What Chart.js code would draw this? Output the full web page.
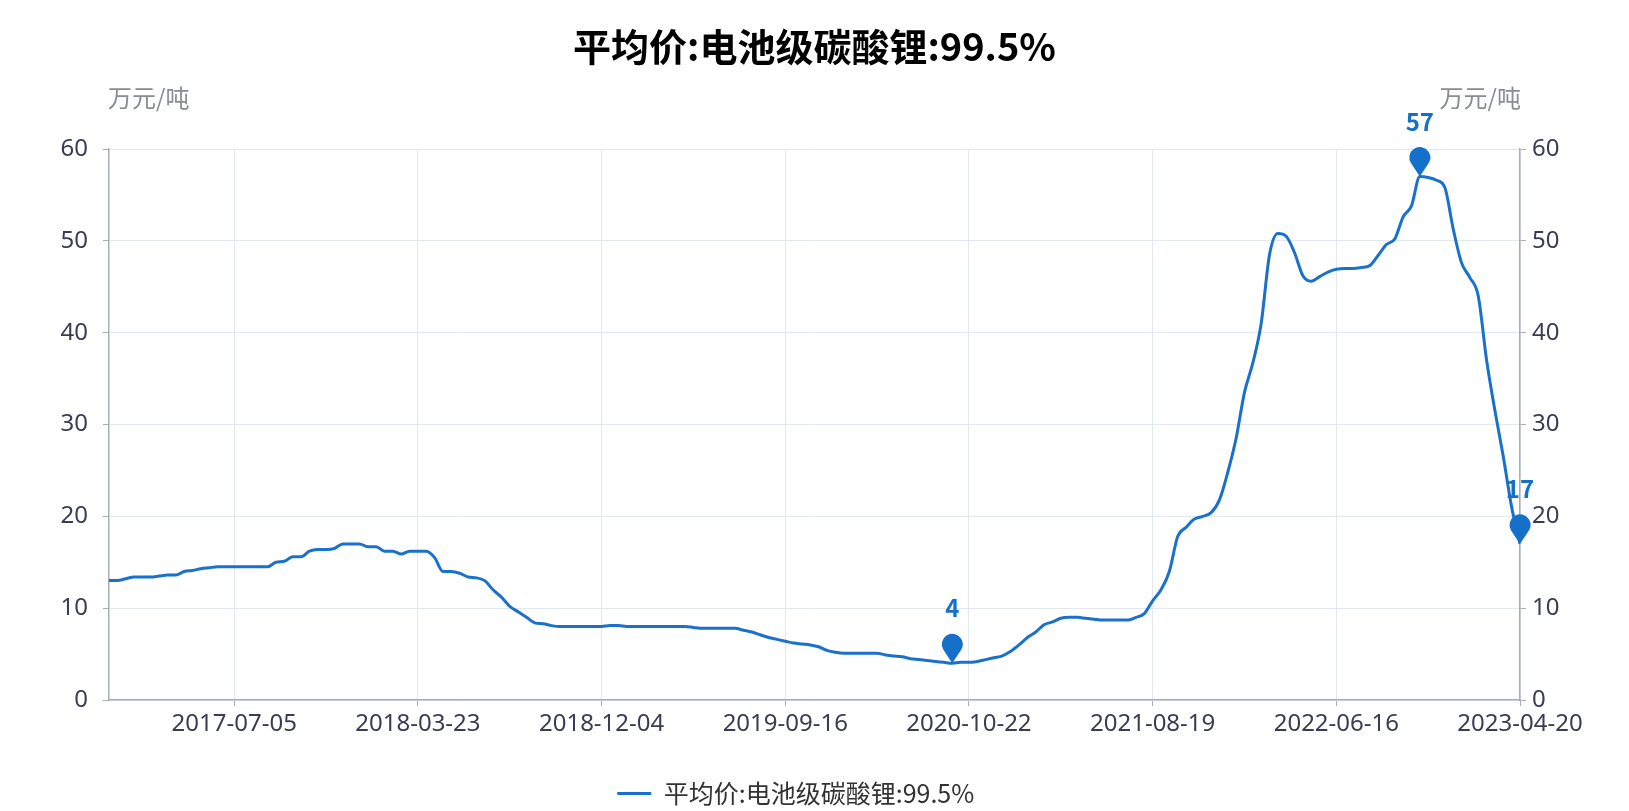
<!DOCTYPE html>
<html><head><meta charset="utf-8">
<script src="https://cdn.jsdelivr.net/npm/chart.js@4.4.1/dist/chart.umd.min.js"></script>
<style>html,body{margin:0;padding:0;background:#fff}#wrap{width:1629px;height:811px;position:relative}</style>
</head><body><div id="wrap"><canvas id="c"></canvas></div>
<script>
const titleText = '平均价:电池级碳酸锂:99.5%';
const seriesName = '平均价:电池级碳酸锂:99.5%';
const unitName = '万元/吨';
const tickLabels = ['2017-07-05','2018-03-23','2018-12-04','2019-09-16','2020-10-22','2021-08-19','2022-06-16','2023-04-20'];
const tickPositions = [15,37,59,81,103,125,147,169];
const prices = [
 13.0,13.0,13.2,13.4,13.4,13.4,13.5,13.6,13.6,14.0,
 14.1,14.3,14.4,14.5,14.5,14.5,14.5,14.5,14.5,14.5,
 15.0,15.1,15.6,15.6,16.2,16.4,16.4,16.5,17.0,17.0,
 17.0,16.7,16.7,16.2,16.2,15.9,16.2,16.2,16.2,15.5,
 14.0,14.0,13.8,13.4,13.3,13.0,12.0,11.2,10.2,9.6,
 9.0,8.4,8.3,8.1,8.0,8.0,8.0,8.0,8.0,8.0,
 8.1,8.1,8.0,8.0,8.0,8.0,8.0,8.0,8.0,8.0,
 7.9,7.8,7.8,7.8,7.8,7.8,7.6,7.4,7.1,6.8,
 6.6,6.4,6.2,6.1,6.0,5.8,5.4,5.2,5.1,5.1,
 5.1,5.1,5.1,4.9,4.8,4.7,4.5,4.4,4.3,4.2,
 4.1,4.0,4.1,4.1,4.2,4.4,4.6,4.8,5.3,6.0,
 6.8,7.4,8.2,8.5,8.9,9.0,9.0,8.9,8.8,8.7,
 8.7,8.7,8.7,9.0,9.4,10.8,12.0,14.0,17.8,18.8,
 19.7,20.0,20.4,21.8,24.8,28.5,33.5,36.7,41.0,48.5,
 50.8,50.5,48.7,46.2,45.6,46.1,46.6,46.9,47.0,47.0,
 47.1,47.3,48.4,49.6,50.2,52.6,53.8,57.0,56.9,56.6,
 55.8,51.3,47.6,46.0,44.0,37.0,31.5,26.5,21.0,17.0
];

const FONT = "'Noto Sans CJK SC','Noto Sans',sans-serif";
const TICK_FONT = "'Noto Sans','Noto Sans CJK SC',sans-serif";
const LINE_COLOR = '#1a71cc';
const PIN_COLOR = '#1570c9';
const AXIS_COLOR = '#A9ADB6';
const GRID_COLOR = '#E3E7F0';
const LABEL_COLOR = '#3a3d52';
const PAD_BOTTOM = -5;

const markPins = {
  id: 'markPins',
  afterDatasetsDraw(chart) {
    const meta = chart.getDatasetMeta(0);
    const ys = chart.data.datasets[0].data.map(d => d.y);
    const iMax = ys.indexOf(Math.max(...ys));
    const iMin = ys.indexOf(Math.min(...ys));
    const iLast = ys.length - 1;
    const ctx = chart.ctx;
    [iMax, iMin, iLast].forEach(i => {
      const el = meta.data[i];
      const x = el.x, y = el.y;
      const r = 10.5, d = 19, hc = y - d;
      const b = Math.acos(r / d);
      ctx.save();
      ctx.fillStyle = PIN_COLOR;
      ctx.beginPath();
      ctx.moveTo(x, y);
      ctx.arc(x, hc, r, Math.PI / 2 + b, Math.PI / 2 - b + 2 * Math.PI, false);
      ctx.closePath();
      ctx.fill();
      ctx.font = "bold 24px " + FONT;
      ctx.textAlign = 'center';
      ctx.textBaseline = 'middle';
      ctx.fillText(String(Math.round(ys[i])), x, hc - 36);
      ctx.restore();
    });
  }
};

const axisNames = {
  id: 'axisNames',
  afterDraw(chart) {
    const ctx = chart.ctx, a = chart.chartArea;
    ctx.save();
    ctx.font = "24px " + FONT;
    ctx.fillStyle = '#8a8c94';
    ctx.textBaseline = 'middle';
    ctx.textAlign = 'left';
    ctx.fillText(unitName, a.left - 1, 98);
    ctx.textAlign = 'right';
    ctx.fillText(unitName, a.right + 1, 98);
    ctx.restore();
  }
};

new Chart(document.getElementById('c'), {
  type: 'line',
  data: {
    datasets: [{
      label: seriesName,
      data: prices.map((v, i) => ({ x: i, y: v })),
      borderColor: LINE_COLOR,
      backgroundColor: LINE_COLOR,
      borderWidth: 3,
      pointRadius: 0,
      pointHoverRadius: 0,
      tension: 0.3,
      cubicInterpolationMode: 'monotone',
      yAxisID: 'y'
    }]
  },
  options: {
    responsive: true,
    maintainAspectRatio: false,
    animation: false,
    layout: { padding: { top: 0, left: 0, right: 0, bottom: PAD_BOTTOM } },
    plugins: {
      title: {
        display: true, text: titleText, color: '#000',
        font: { family: FONT, size: 38, weight: 'bold' },
        padding: { top: 24, bottom: 79.4 }
      },
      legend: {
        position: 'bottom',
        labels: {
          usePointStyle: true, pointStyle: 'line', pointStyleWidth: 34,
          color: '#333', padding: 1,
          font: { family: FONT, size: 25 },
          generateLabels: chart => {
            const items = Chart.defaults.plugins.legend.labels.generateLabels(chart);
            items.forEach(it => { it.text = it.text + '\u2003\u2002'; });
            return items;
          }
        }
      },
      tooltip: { enabled: false }
    },
    scales: {
      x: {
        type: 'linear', min: 0, max: prices.length - 1,
        afterBuildTicks: s => { s.ticks = tickPositions.map(v => ({ value: v })); },
        afterFit: s => { s.height = s.chart.height - PAD_BOTTOM - s.chart.legend.height - 700; },
        ticks: {
          autoSkip: false, maxRotation: 0, padding: 4, color: LABEL_COLOR,
          font: { family: TICK_FONT, size: 24 },
          callback: v => { const k = tickPositions.indexOf(v); return k >= 0 ? tickLabels[k] : ''; }
        },
        grid: { color: GRID_COLOR, tickColor: AXIS_COLOR, tickLength: 6 },
        border: { color: AXIS_COLOR, width: 1.5 }
      },
      y: {
        position: 'left', min: 0, max: 60,
        afterFit: s => { s.width = 109; },
        ticks: { stepSize: 10, padding: 15, color: LABEL_COLOR, font: { family: TICK_FONT, size: 24 } },
        grid: { color: GRID_COLOR, tickColor: AXIS_COLOR, tickLength: 6 },
        border: { color: AXIS_COLOR, width: 1.5 }
      },
      y2: {
        position: 'right', min: 0, max: 60,
        afterFit: s => { s.width = 109; },
        ticks: { stepSize: 10, padding: 6, color: LABEL_COLOR, font: { family: TICK_FONT, size: 24 } },
        grid: { drawOnChartArea: false, tickColor: AXIS_COLOR, tickLength: 6 },
        border: { color: AXIS_COLOR, width: 1.5 }
      }
    }
  },
  plugins: [markPins, axisNames]
});
</script></body></html>
